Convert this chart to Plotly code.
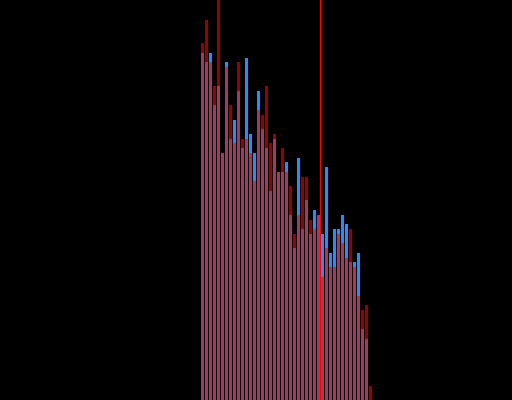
import plotly.graph_objects as go

# bin index
bins = list(range(43))
# blue series (drawn opaque, underneath)
blue_values = [347, 338, 347, 295, 314, 247, 338, 261, 280, 309,
               252, 342, 266, 247, 309, 271, 252, 209, 261, 228,
               228, 238, 185, 152, 242, 171, 200, 166, 190, 185,
               166, 233, 147, 171, 171, 185, 176, 138, 138, 147,
               71, 61, 0]
# red series (semi-transparent, on top)
red_values = [357, 380, 338, 314, 430, 247, 333, 295, 257, 338,
              261, 261, 247, 219, 290, 285, 314, 257, 266, 228,
              252, 228, 214, 166, 185, 223, 223, 180, 171, 185,
              123, 152, 133, 133, 166, 157, 142, 171, 133, 104,
              90, 95, 14]
threshold = 29.5

fig = go.Figure()
fig.add_trace(go.Bar(x=bins, y=blue_values, width=0.75,
                     marker=dict(color="rgb(30,144,255)", line=dict(width=0))))
fig.add_trace(go.Bar(x=bins, y=red_values, width=0.75, opacity=0.6,
                     marker=dict(color="rgb(255,0,0)", line=dict(width=0))))
fig.add_shape(type="line", x0=threshold, x1=threshold, xref="x",
              y0=0, y1=1, yref="paper", line=dict(color="rgb(255,0,0)", width=1))

fig.update_layout(
    width=512, height=400,
    margin=dict(l=0, r=0, t=0, b=0, pad=0),
    paper_bgcolor="black", plot_bgcolor="black",
    barmode="overlay", showlegend=False,
    xaxis=dict(range=[-50.625, 77.375], visible=False, showgrid=False, zeroline=False),
    yaxis=dict(range=[0, 400], visible=False, showgrid=False, zeroline=False),
)

fig.write_html("out.html", config={"displayModeBar": False},
               post_script="document.body.style.margin='0';document.body.style.background='black';")
